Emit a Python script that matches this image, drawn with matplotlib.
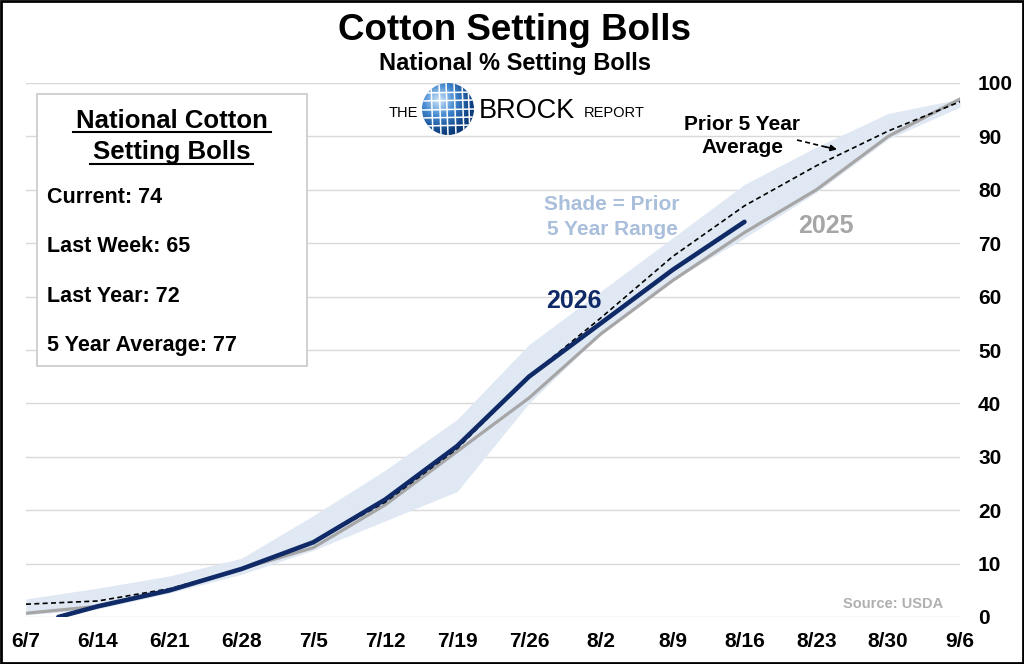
import numpy as np
import matplotlib
matplotlib.use('Agg')
from matplotlib import pyplot as plt
from matplotlib.patches import Rectangle, Circle

plt.rcParams['font.family'] = ['Liberation Sans', 'DejaVu Sans']

# weekly dates on the x axis (week index 0..13)
week_labels = ['6/7', '6/14', '6/21', '6/28', '7/5', '7/12', '7/19', '7/26',
               '8/2', '8/9', '8/16', '8/23', '8/30', '9/6']
weeks = np.arange(len(week_labels))

# 2026 (current year)
cur_x = [0.45, 1, 2, 3, 4, 5, 6, 7, 8, 9, 10]
cur_y = [0, 2, 5, 9, 14, 22, 32, 45, 55, 65, 74]

# 2025
last_y = [0.7, 2, 5, 9, 13, 21, 31, 41, 53, 63, 72, 80, 90, 97]

# prior 5 year average
avg_y = [2.4, 3, 5.3, 9, 14, 21.5, 31.5, 45, 56, 67.5, 77, 84.5, 91, 96.5]

# prior 5 year range
hi_y = [3.4, 5.4, 7.7, 11, 19, 27.5, 37, 51, 61, 71, 81, 88, 94.3, 97]
lo_y = [0.4, 1.5, 4.5, 8, 12.5, 18, 23.5, 40, 53, 63, 71, 79.5, 89.5, 95.5]

navy = '#0f2a66'
gray = '#a6a6a6'

fig = plt.figure(figsize=(10.24, 6.64), dpi=100)
ax = fig.add_axes([26/1024, 1-617/664, (960-26)/1024, (617-83)/664])

ax.fill_between(weeks, lo_y, hi_y, color='#dfe8f3', lw=0, zorder=1)
ax.plot(weeks, last_y, color=gray, lw=2.3, zorder=2)
ax.plot(weeks, avg_y, color='black', lw=1.2, ls=(0, (3, 2)), zorder=3)
ax.plot(cur_x, cur_y, color=navy, lw=3.3, zorder=4, solid_capstyle='round')

ax.set_xlim(0, 13)
ax.set_ylim(0, 100)
ax.set_yticks(range(0, 101, 10))
ax.set_xticks(weeks)
ax.set_xticklabels(week_labels)
ax.yaxis.tick_right()
ax.tick_params(axis='y', length=0, pad=13, labelsize=15)
ax.tick_params(axis='x', length=0, pad=11, labelsize=15)
for lab in ax.get_xticklabels() + ax.get_yticklabels():
    lab.set_fontweight('bold')
ax.grid(axis='y', color='#d9d9d9', lw=1)
ax.set_axisbelow(True)
for s in ax.spines.values():
    s.set_visible(False)
ax.patch.set_alpha(0)

# overlay in pixel coordinates for titles, box and notes
ov = fig.add_axes([0, 0, 1, 1], zorder=5)
ov.set_xlim(0, 1024)
ov.set_ylim(664, 0)
ov.axis('off')
ov.patch.set_alpha(0)

ov.add_patch(Rectangle((1, 1), 1022, 662, fill=False, ec='black', lw=2))

ov.text(514, 40, 'Cotton Setting Bolls', ha='center', va='baseline',
        fontsize=26.5, fontweight='bold')
ov.text(515, 70, 'National % Setting Bolls', ha='center', va='baseline',
        fontsize=17, fontweight='bold')

# logo
ov.text(403, 117, 'THE', ha='center', va='baseline', fontsize=10.5)
ov.text(527, 118, 'BROCK', ha='center', va='baseline', fontsize=19.5)
ov.text(614, 117, 'REPORT', ha='center', va='baseline', fontsize=10.5)
gx, gy, gr = 448, 109, 26
yy, xx = np.mgrid[-1:1:100j, -1:1:100j]
rr = np.sqrt((xx + 0.35)**2 + (yy + 0.35)**2)
cmap = matplotlib.colors.LinearSegmentedColormap.from_list(
    'globe', ['#cfe6fb', '#3f86cf', '#0d3f80', '#082a5c'])
globe = ov.imshow(rr, cmap=cmap, extent=[gx-gr, gx+gr, gy+gr, gy-gr],
                  origin='upper', zorder=6, aspect='auto')
clip = Circle((gx, gy), gr, transform=ov.transData)
globe.set_clip_path(clip)
for d in [-17, -9, -2, 6, 14, 20]:
    ln, = ov.plot([gx+d, gx+d+2], [gy-gr, gy+gr], color='white', lw=1.1, zorder=7)
    ln.set_clip_path(clip)
for d in [-16, -8, 1, 9, 17]:
    ln, = ov.plot([gx-gr, gx+gr], [gy+d, gy+d-1], color='white', lw=1.1, zorder=7)
    ln.set_clip_path(clip)
ov.set_xlim(0, 1024)
ov.set_ylim(664, 0)

# stats box
ov.add_patch(Rectangle((37, 94), 270, 272, fc='white', ec='#c8c8c8', lw=1.2, zorder=3))
ov.text(172, 128, 'National Cotton', ha='center', va='baseline',
        fontsize=18.5, fontweight='bold', zorder=4)
ov.text(172, 159, 'Setting Bolls', ha='center', va='baseline',
        fontsize=18.5, fontweight='bold', zorder=4)
ov.plot([73, 271], [132, 132], color='black', lw=1.5, zorder=4)
ov.plot([90, 253], [164, 164], color='black', lw=1.5, zorder=4)
stats = ['Current: 74', 'Last Week: 65', 'Last Year: 72', '5 Year Average: 77']
for i, s in enumerate(stats):
    ov.text(47, 203 + 49.5*i, s, ha='left', va='baseline',
            fontsize=15.5, fontweight='bold', zorder=4)

# notes
ov.text(612, 210, 'Shade = Prior', ha='center', va='baseline',
        fontsize=15, fontweight='bold', color='#a9bfdc')
ov.text(612, 235, '5 Year Range', ha='center', va='baseline',
        fontsize=15, fontweight='bold', color='#a9bfdc')
ov.text(574, 308, '2026', ha='center', va='baseline',
        fontsize=18, fontweight='bold', color=navy)
ov.text(826, 233, '2025', ha='center', va='baseline',
        fontsize=18, fontweight='bold', color=gray)
ov.text(742, 130, 'Prior 5 Year', ha='center', va='baseline',
        fontsize=15, fontweight='bold')
ov.text(742, 153, 'Average', ha='center', va='baseline',
        fontsize=15, fontweight='bold')
ov.plot([797, 828], [140, 147.5], color='black', lw=1.2, ls=(0, (3, 2)))
ov.annotate('', xy=(837, 149.5), xytext=(826, 147),
            arrowprops=dict(arrowstyle='-|>', color='black', lw=1.2,
                            mutation_scale=9, shrinkA=0, shrinkB=0))
ov.text(893, 608, 'Source: USDA', ha='center', va='baseline',
        fontsize=10.5, fontweight='bold', color='#b0b0b0')

fig.savefig('out.png', dpi=100)
